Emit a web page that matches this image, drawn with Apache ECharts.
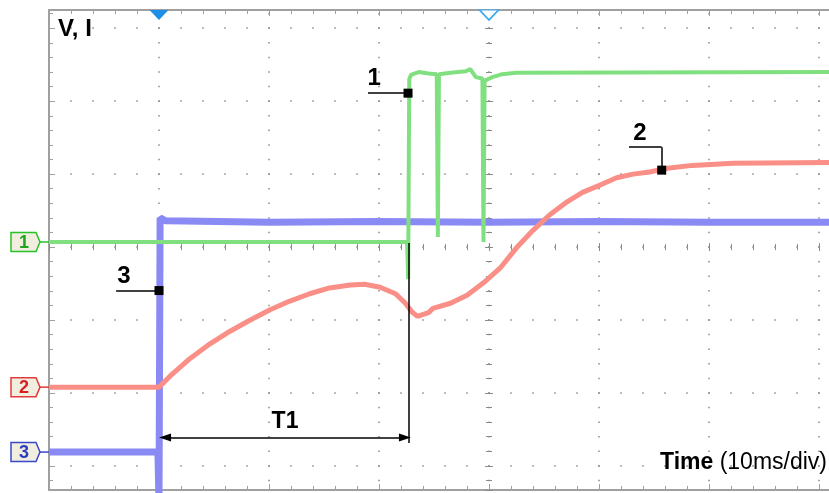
<!DOCTYPE html>
<html lang="en">
<head>
<meta charset="UTF-8">
<title>V, I</title>
<script src="https://cdn.jsdelivr.net/npm/echarts@6/dist/echarts.min.js"></script>
<style>html,body{margin:0;padding:0;background:#fff;}</style>
</head>
<body>
<div id="chart" style="width:829px;height:493px;"></div>
<script>
// time in ms (0 = trigger), level in divisions (0 = screen centre)
var xMin = -10, xMax = 70, xStep = 10;
var yMin = -3.33, yMax = 3.25;

// channel 1 (green)
var ch1Time  = [-10, 22.55, 22.65, 22.75, 22.9, 23.6, 24.5, 25.25, 25.35, 25.45, 26.5, 27.9, 28.3, 28.8, 29.4, 29.5, 29.6, 30.3, 31.2, 32.5, 61];
var ch1Level = [0.07, 0.07, -0.44, 2.30, 2.36, 2.40, 2.38, 2.37, 0.14, 2.37, 2.39, 2.41, 2.44, 2.33, 2.31, 0.07, 2.28, 2.33, 2.37, 2.39, 2.40];

// channel 2 (red)
var ch2Time  = [-10, 0, 1.0, 2.8, 4.6, 6.5, 8.3, 10.1, 11.9, 13.7, 15.5, 17.4, 18.7, 20.1, 21.5, 22.4, 23.0, 23.5, 24.5, 24.9, 26.5, 28.0, 29.5, 31.0, 32.5, 34.0, 35.5, 37.1, 38.5, 40.1, 41.6, 43.1, 44.6, 46.2, 48.5, 52.2, 61];
var ch2Level = [-1.92, -1.92, -1.77, -1.53, -1.33, -1.15, -1.00, -0.86, -0.74, -0.64, -0.56, -0.52, -0.51, -0.55, -0.64, -0.77, -0.89, -0.95, -0.90, -0.84, -0.77, -0.66, -0.49, -0.29, -0.01, 0.23, 0.44, 0.62, 0.75, 0.85, 0.95, 1.00, 1.03, 1.08, 1.12, 1.15, 1.16];

// channel 3 (blue)
var ch3Time  = [-10, -0.1, 0, 0.1, 0.6, 10, 20, 30, 40, 50, 61];
var ch3Level = [-2.81, -2.81, -3.5, 0.40, 0.36, 0.34, 0.35, 0.34, 0.35, 0.34, 0.34];

// channel reference levels (left markers)
var chanNames = ['1', '2', '3'];
var chanRef = [0.07, -1.92, -2.81];
var chanLine = ['#27c227', '#e23b3b', '#3a48c8'];
var chanText = ['#1ea51e', '#d81e1e', '#2c3cc0'];

// waveform markers: [time, level]
var mark1 = [22.64, 2.11], mark1Lead = [19.0, 2.11], mark1Text = [19.55, 2.31];
var mark2 = [45.7, 1.055], mark2Lead = [[42.73, 1.37], [45.7, 1.37]], mark2Text = [43.73, 1.56];
var mark3 = [0, -0.596], mark3Lead = [-3.9, -0.596], mark3Text = [-3.18, -0.40];
var t1Start = 0.55, t1End = 22.36, t1Level = -2.61;
var cursorTime = 22.73, cursorTop = 0.055, cursorBottom = -2.685;

var chart = echarts.init(document.getElementById('chart'));

var W = 829, H = 493;
var gridLeft = 49, gridTop = 10, gridBottom = 3;
var divPx = 110;
var gridW = (xMax - xMin) / xStep * divPx;
var gridH = H - gridTop - gridBottom;
var pxPerDivY = gridH / (yMax - yMin);
var minorY = pxPerDivY / 5, minorX = divPx / 5;
var dot = 1.5;
var vOffset = minorY - (((yMax * pxPerDivY) % minorY) - dot / 2);
var centreOffset = -(30 - xMin) / (xMax - xMin) * gridW;

var frame = '#a0a0a0', dots = '#8a8a8a';

function pairs(t, v) {
    return t.map(function (x, i) { return [x, v[i]]; });
}

function xAx(o) {
    return Object.assign({
        type: 'value', min: xMin, max: xMax, interval: xStep,
        axisLabel: {show: false}, splitLine: {show: false},
        axisLine: {show: false, onZero: false},
        axisTick: {show: false}, minorTick: {show: false}
    }, o);
}
function yAx(o) {
    return Object.assign({
        type: 'value', min: yMin, max: yMax,
        axisLabel: {show: false}, splitLine: {show: false},
        axisLine: {show: false, onZero: false},
        axisTick: {show: false}, minorTick: {show: false}
    }, o);
}
function ticks(len, inside, col) {
    return {show: true, inside: inside, length: len, lineStyle: {color: col, width: 1}};
}
function minor(len, col) {
    return {show: true, splitNumber: 5, length: len, lineStyle: {color: col, width: 1}};
}

var labelFont = 'Liberation Sans';
function markText(pos, txt) {
    return {
        coord: pos, symbol: 'rect', symbolSize: 1, itemStyle: {color: 'rgba(0,0,0,0)'},
        label: {show: true, position: 'inside', formatter: txt, color: '#000',
            fontFamily: labelFont, fontWeight: 'bold', fontSize: 24}
    };
}
function square(pos) {
    return {coord: pos, symbol: 'rect', symbolSize: 9, itemStyle: {color: '#000'}, label: {show: false}};
}

var option = {
    backgroundColor: '#fff',
    animation: false,
    title: [{
        text: 'V, I', left: 58, top: 17, padding: 0,
        textStyle: {fontFamily: labelFont, fontWeight: 'bold', fontSize: 24, color: '#000', lineHeight: 24}
    }, {
        text: '{b|Time} (10ms/div)', right: 2, top: 451, padding: 0,
        textStyle: {fontFamily: labelFont, fontWeight: 'normal', fontSize: 23, color: '#000', lineHeight: 23,
            rich: {b: {fontFamily: labelFont, fontWeight: 'bold', fontSize: 23, color: '#000', lineHeight: 23}}}
    }],
    grid: {left: gridLeft, top: gridTop, right: W - gridLeft - gridW, bottom: gridBottom,
        containLabel: false, outerBoundsMode: 'none'},
    xAxis: [
        xAx({position: 'bottom', axisLine: {show: true, onZero: false, lineStyle: {color: frame, width: 2}},
            axisTick: ticks(6, true, frame), minorTick: minor(4, frame),
            splitLine: {show: true, lineStyle: {color: dots, width: dot, type: [dot, minorY - dot], dashOffset: vOffset}}}),
        xAx({position: 'top', axisLine: {show: true, onZero: false, lineStyle: {color: frame, width: 2}},
            axisTick: ticks(6, true, frame), minorTick: minor(4, frame)}),
        xAx({position: 'bottom', axisLine: {show: false, onZero: true},
            axisTick: ticks(4, true, dots), minorTick: minor(3, dots)}),
        xAx({position: 'bottom', axisLine: {show: false, onZero: true},
            axisTick: ticks(4, false, dots), minorTick: minor(3, dots)})
    ],
    yAxis: [
        yAx({position: 'left', axisLine: {show: true, onZero: false, lineStyle: {color: frame, width: 2}},
            axisTick: ticks(6, true, frame), minorTick: minor(4, frame),
            splitLine: {show: true, lineStyle: {color: dots, width: dot, type: [dot, minorX - dot], dashOffset: dot / 2}}}),
        yAx({position: 'left', offset: centreOffset, axisTick: ticks(4, true, dots), minorTick: minor(3, dots)}),
        yAx({position: 'left', offset: centreOffset, axisTick: ticks(4, false, dots), minorTick: minor(3, dots)})
    ],
    series: [{
        name: 'ch3', type: 'line', data: pairs(ch3Time, ch3Level), showSymbol: false, symbol: 'none',
        lineStyle: {color: '#8a8af4', width: 7}, z: 2,
        markPoint: {
            animation: false,
            data: [
                {coord: [0, yMax], symbol: 'triangle', symbolRotate: 180, symbolSize: [19, 10], symbolOffset: [0, 5],
                    itemStyle: {color: '#1e8fe6'}, label: {show: false}},
                {coord: [30, yMax], symbol: 'triangle', symbolRotate: 180, symbolSize: [19, 10], symbolOffset: [0, 5],
                    itemStyle: {color: '#fff', borderColor: '#3aa8ee', borderWidth: 1.5}, label: {show: false}},
                square(mark3), markText(mark3Text, '3')
            ]
        },
        markLine: {
            animation: false, silent: true, symbol: ['none', 'none'],
            lineStyle: {color: '#000', width: 1.5, type: 'solid'}, label: {show: false},
            data: [
                [{coord: mark3Lead}, {coord: mark3}],
                [{coord: [cursorTime, cursorTop]}, {coord: [cursorTime, cursorBottom]}],
                [{coord: [t1Start, t1Level], symbol: 'triangle', symbolSize: [8, 12],
                    label: {show: true, position: 'middle', formatter: 'T1', distance: 4, color: '#000',
                        fontFamily: labelFont, fontWeight: 'bold', fontSize: 23}},
                 {coord: [t1End, t1Level], symbol: 'triangle', symbolSize: [8, 12]}]
            ]
        }
    }, {
        name: 'ch2', type: 'line', data: pairs(ch2Time, ch2Level), showSymbol: false, symbol: 'none',
        lineStyle: {color: '#f98f86', width: 5}, z: 3,
        markPoint: {animation: false, data: [square(mark2), markText(mark2Text, '2')]},
        markLine: {
            animation: false, silent: true, symbol: ['none', 'none'],
            lineStyle: {color: '#000', width: 1.5, type: 'solid'}, label: {show: false},
            data: [
                [{coord: mark2Lead[0]}, {coord: mark2Lead[1]}],
                [{coord: mark2Lead[1]}, {coord: mark2}]
            ]
        }
    }, {
        name: 'ch1', type: 'line', data: pairs(ch1Time, ch1Level), showSymbol: false, symbol: 'none',
        lineStyle: {color: '#80e080', width: 4}, z: 4,
        markPoint: {animation: false, data: [square(mark1), markText(mark1Text, '1')]},
        markLine: {
            animation: false, silent: true, symbol: ['none', 'none'],
            lineStyle: {color: '#000', width: 1.5, type: 'solid'}, label: {show: false},
            data: [[{coord: mark1Lead}, {coord: mark1}]]
        }
    }]
};
chart.setOption(option);

// channel reference tags on the left edge
var tags = [];
chanRef.forEach(function (lv, i) {
    var y = chart.convertToPixel({yAxisIndex: 0}, lv);
    tags.push({
        type: 'polygon', silent: true, z: 10,
        shape: {points: [[11, y - 9.5], [36, y - 9.5], [40, y], [36, y + 9.5], [11, y + 9.5]]},
        style: {fill: '#f1eedf', stroke: chanLine[i], lineWidth: 1.5}
    });
    tags.push({
        type: 'line', silent: true, z: 10,
        shape: {x1: 40, y1: y, x2: gridLeft, y2: y},
        style: {stroke: chanLine[i], lineWidth: 1.5}
    });
    tags.push({
        type: 'text', silent: true, z: 11, x: 24, y: y + 1,
        style: {text: chanNames[i], fill: chanText[i], font: 'bold 18px "Liberation Sans"',
            align: 'center', verticalAlign: 'middle'}
    });
});
chart.setOption({graphic: tags});
</script>
</body>
</html>
